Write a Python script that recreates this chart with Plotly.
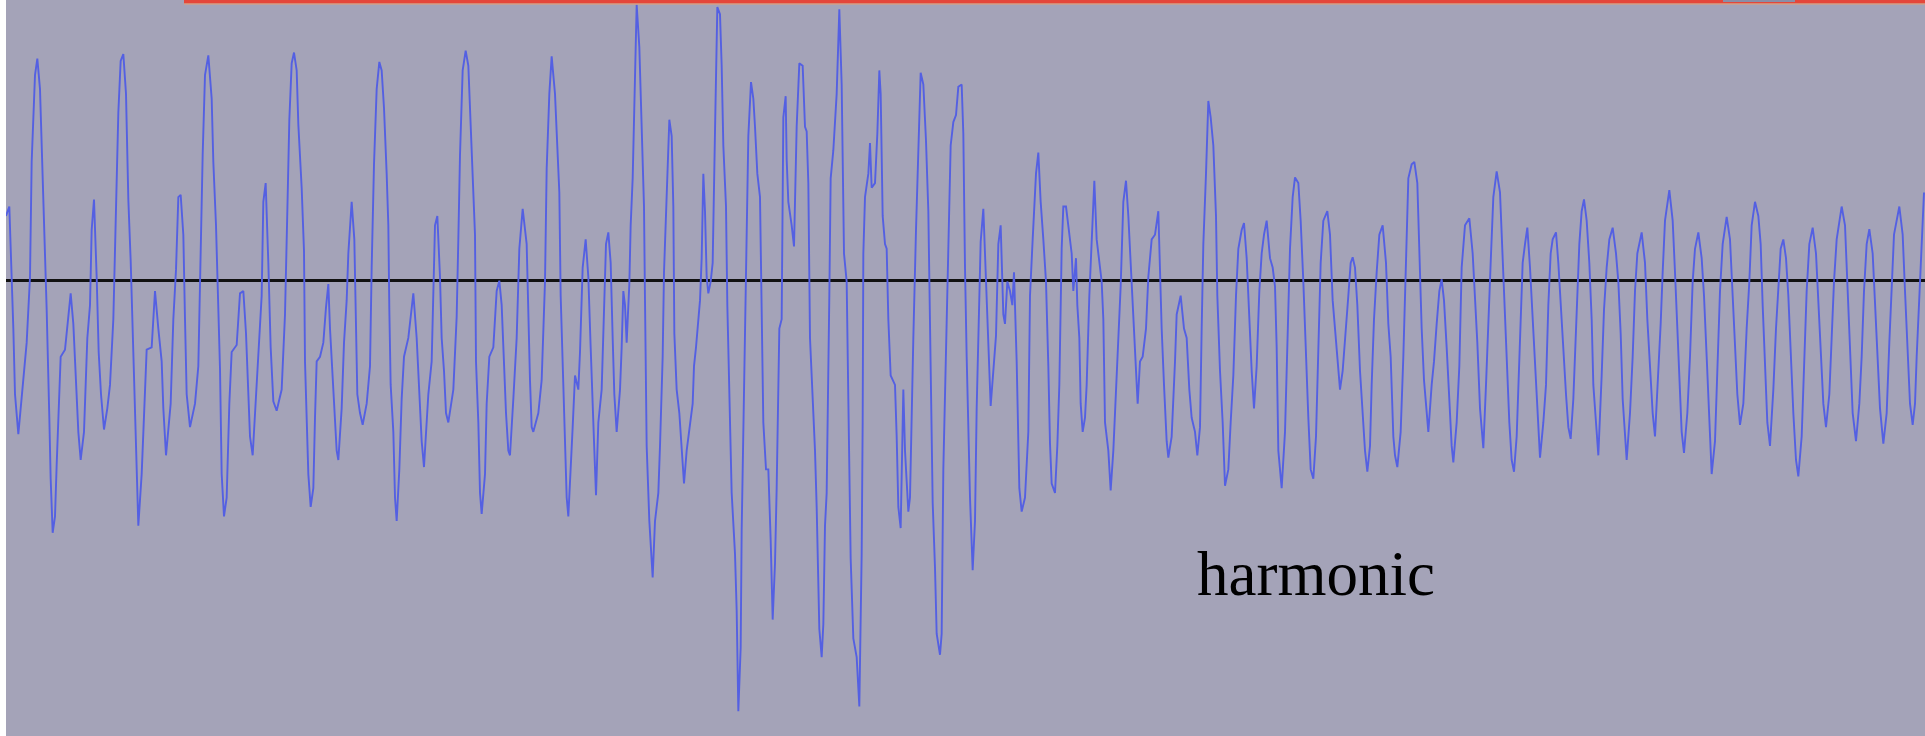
import plotly.graph_objects as go

# Waveform: sample offsets within each block and amplitudes
block_start = [0, 960, 1920, 2880, 3840, 4800]

block1_t = [18, 28, 40, 45, 55, 65, 80, 90, 95, 105, 112, 120, 128, 135, 140, 148, 152, 158, 165, 170, 178, 182, 195, 205, 212, 220, 228, 235, 242, 252, 262, 270, 275, 282, 290, 296, 303, 312, 322, 330, 340, 348, 355, 362, 370, 378, 385, 392, 400, 405, 410, 415, 425, 432, 440, 455, 465, 475, 485, 490, 498, 512, 520, 528, 535, 542, 550, 555, 560, 570, 585, 595, 600, 608, 615, 625, 635, 640, 648, 655, 660, 665, 672, 680, 688, 695, 710, 720, 730, 738, 745, 750, 758, 770, 785, 790, 797, 805, 812, 820, 830, 845, 855, 862, 868, 875, 882, 890, 895, 905, 912, 915, 920, 925, 932, 940, 945, 950]
block1_a = [137, 157, -103, -243, -328, -248, -133, 7, 252, 437, 472, 407, 237, 87, -63, -293, -423, -538, -503, -393, -263, -163, -148, -83, -28, -93, -233, -323, -383, -323, -123, -53, 107, 172, 7, -153, -243, -318, -273, -223, -83, 137, 357, 467, 482, 397, 172, 42, -143, -303, -413, -523, -413, -273, -148, -143, -23, -103, -173, -273, -373, -263, -83, 22, 177, 182, 97, -83, -243, -313, -263, -183, 17, 267, 437, 479, 387, 252, 117, -43, -188, -413, -503, -463, -263, -153, -138, -28, -23, -113, -233, -333, -373, -213, -33, 167, 207, 37, -143, -258, -278, -233, -73, 147, 342, 462, 485, 447, 332, 197, 62, -173, -323, -413, -483, -443, -293, -173]

block2_t = [0, 10, 18, 25, 30, 38, 45, 50, 55, 65, 72, 80, 85, 95, 103, 108, 112, 120, 128, 140, 150, 155, 162, 170, 178, 185, 192, 200, 205, 208, 212, 220, 225, 230, 238, 245, 252, 265, 280, 290, 298, 305, 312, 325, 335, 340, 345, 352, 360, 365, 372, 378, 385, 400, 410, 415, 420, 428, 437, 445, 452, 458, 465, 468, 475, 480, 485, 495, 500, 508, 520, 530, 538, 545, 550, 558, 565, 570, 580, 590, 598, 608, 620, 625, 630, 635, 640, 655, 665, 675, 680, 688, 695, 705, 712, 718, 722, 728, 735, 740, 745, 752, 758, 765, 775, 780, 788, 797, 805, 812, 818, 822, 828, 835, 845, 852, 858, 865, 872, 878, 883, 890, 900, 905, 910, 915, 920, 928, 932, 938, 945, 950, 958]
block2_a = [-163, -133, -58, -8, -103, -203, -283, -363, -383, -273, -133, -43, 57, 167, 87, -63, -243, -283, -308, -263, -183, 27, 247, 407, 465, 447, 367, 227, 117, -63, -223, -323, -463, -513, -403, -253, -163, -123, -28, -123, -233, -343, -398, -243, -173, -48, 117, 137, 7, -123, -193, -283, -303, -233, -78, 87, 267, 447, 489, 457, 332, 237, 97, -173, -303, -453, -498, -413, -263, -163, -143, -23, -1, -53, -153, -283, -363, -373, -253, -123, 67, 152, 77, -83, -213, -313, -323, -283, -213, -3, 237, 397, 477, 397, 287, 187, -33, -183, -303, -463, -503, -413, -313, -203, -233, -153, 27, 87, 7, -143, -243, -343, -458, -303, -233, -53, 77, 102, 37, -123, -243, -323, -233, -143, -23, -53, -133, -8, 117, 217, 467, 587, 497]

block3_t = [5, 12, 15, 20, 28, 38, 45, 55, 60, 68, 72, 80, 88, 95, 100, 103, 110, 118, 125, 132, 140, 148, 158, 162, 168, 180, 185, 190, 195, 200, 205, 212, 218, 225, 232, 240, 245, 250, 258, 262, 268, 275, 285, 290, 295, 302, 305, 312, 318, 325, 333, 340, 345, 352, 360, 365, 370, 378, 385, 392, 398, 405, 410, 418, 425, 430, 437, 440, 445, 455, 462, 470, 478, 488, 495, 500, 505, 510, 515, 520, 525, 530, 538, 545, 550, 555, 560, 568, 572, 580, 590, 598, 605, 612, 620, 625, 632, 640, 650, 658, 665, 668, 670, 675, 685, 690, 695, 705, 712, 718, 722, 728, 735, 740, 745, 752, 765, 770, 775, 782, 790, 795, 800, 805, 810, 815, 820, 828, 835, 842, 850, 858, 865, 870, 878, 885, 890, 900, 905, 910, 918, 925, 932, 940, 948, 955]
block3_a = [307, 157, -43, -353, -513, -633, -513, -453, -353, -163, 17, 197, 342, 307, 157, -113, -233, -283, -363, -433, -363, -318, -263, -183, -143, -43, 47, 227, 147, 7, -28, -3, 37, 317, 582, 567, 457, 287, 157, -53, -273, -453, -583, -703, -918, -783, -533, -233, -53, 307, 422, 387, 327, 227, 177, -93, -303, -403, -403, -553, -723, -603, -443, -103, -83, 347, 392, 257, 167, 117, 72, 327, 462, 457, 327, 317, 207, -123, -203, -303, -363, -483, -743, -803, -733, -523, -453, -33, 217, 277, 397, 577, 417, 57, -3, -253, -593, -763, -803, -908, -583, -303, 57, 177, 227, 292, 197, 207, 312, 447, 397, 137, 77, 67, -83, -203, -223, -333, -483, -528, -233, -363, -443, -493, -463, -273, -123, 107, 287, 442, 417, 297, 147, -103, -473, -613, -753, -798, -753, -403, -143, 87, 287, 337, 352, 412]

block4_t = [5, 10, 12, 15, 20, 25, 30, 38, 45, 50, 55, 62, 70, 78, 85, 92, 100, 108, 115, 122, 130, 135, 142, 150, 157, 162, 170, 178, 185, 195, 205, 210, 218, 228, 235, 242, 250, 258, 265, 270, 275, 285, 292, 298, 305, 310, 318, 325, 335, 340, 348, 352, 358, 362, 368, 375, 380, 388, 395, 403, 410, 418, 425, 430, 435, 445, 452, 460, 468, 475, 482, 490, 498, 505, 512, 520, 525, 533, 540, 548, 558, 565, 575, 585, 595, 600, 605, 612, 620, 625, 635, 645, 650, 662, 672, 680, 688, 695, 705, 712, 720, 725, 730, 738, 745, 752, 760, 768, 772, 780, 788, 795, 805, 812, 820, 828, 835, 845, 852, 860, 865, 870, 875, 882, 890, 898, 905, 912, 920, 930, 938, 945, 950, 955]
block4_a = [417, 312, 177, 27, -163, -333, -463, -618, -513, -273, -93, 82, 152, -3, -163, -268, -193, -118, 77, 117, -73, -93, -3, -23, -53, 17, -173, -443, -493, -463, -323, -33, 87, 227, 272, 167, 87, -3, -183, -348, -433, -453, -353, -223, 67, 157, 157, 117, 57, -23, 47, -53, -123, -263, -323, -293, -223, -33, 77, 212, 87, 37, -3, -83, -303, -363, -448, -363, -233, -113, -13, 167, 212, 137, 37, -73, -173, -263, -173, -163, -103, 7, 87, 97, 147, -3, -103, -223, -343, -378, -333, -173, -73, -33, -103, -123, -233, -293, -323, -373, -313, -103, 77, 227, 382, 347, 287, 137, -33, -193, -303, -438, -403, -303, -203, -33, 67, 107, 122, 47, -43, -103, -193, -273, -183, -23, 57, 97, 127, 47, 27, -13, -143, -363]

block5_t = [5, 15, 22, 30, 38, 45, 55, 62, 70, 75, 85, 92, 100, 108, 115, 122, 130, 142, 150, 158, 165, 172, 180, 188, 195, 205, 212, 218, 225, 232, 240, 248, 255, 262, 270, 275, 282, 290, 298, 308, 318, 325, 332, 340, 345, 352, 362, 370, 378, 385, 395, 403, 412, 418, 425, 432, 440, 445, 455, 462, 470, 478, 485, 492, 500, 508, 515, 520, 530, 538, 545, 555, 568, 578, 585, 592, 600, 610, 618, 625, 632, 640, 650, 660, 665, 672, 680, 688, 695, 702, 710, 715, 720, 728, 735, 742, 750, 758, 765, 772, 780, 790, 798, 805, 812, 818, 828, 835, 842, 850, 858, 865, 872, 880, 885, 892, 898, 905, 912, 920, 928, 935, 940, 948, 955]
block5_a = [-443, -323, -113, 67, 177, 219, 207, 127, -3, -113, -293, -403, -423, -333, -163, 37, 127, 147, 97, -43, -103, -163, -233, -193, -133, -33, 37, 49, 27, -53, -193, -283, -363, -408, -353, -223, -83, 17, 97, 117, 37, -93, -163, -333, -373, -398, -323, -163, 57, 217, 247, 252, 207, 57, -103, -213, -273, -323, -223, -173, -93, -23, 2, -43, -143, -273, -353, -388, -303, -183, 27, 117, 132, 57, -33, -133, -273, -358, -223, -73, 37, 177, 232, 187, 97, -43, -153, -303, -383, -408, -333, -233, -103, 37, 77, 112, 27, -83, -183, -273, -378, -303, -223, -53, 57, 87, 102, 37, -53, -153, -243, -313, -338, -253, -163, -43, 77, 147, 172, 127, 37, -83, -223, -303, -373]

block6_t = [5, 12, 20, 28, 38, 48, 55, 62, 68, 75, 80, 90, 98, 105, 112, 125, 135, 142, 150, 158, 165, 175, 182, 188, 195, 208, 218, 225, 232, 240, 245, 252, 262, 270, 278, 285, 295, 305, 312, 320, 328, 335, 345, 352, 360, 368, 380, 390, 398, 405, 412, 420, 430, 440, 448, 455, 465, 475, 482, 488, 495, 502, 510, 520, 528, 535, 542, 550, 558, 565, 572, 580, 588, 595, 605, 612, 620, 628, 638, 648, 655, 662, 670, 678, 688, 695, 702, 710, 725, 735, 742, 750, 758, 768, 778, 785, 792, 800, 808, 818, 825, 832, 840, 850, 860, 868, 875, 882, 898, 908, 915, 922, 930, 938, 945, 950, 958, 965, 972]
block6_a = [-203, -63, 27, 87, 112, 57, -3, -113, -253, -343, -383, -283, -163, -23, 57, 102, 37, -83, -183, -283, -333, -203, -93, 17, 127, 192, 127, 17, -93, -243, -323, -368, -283, -163, -3, 67, 102, 47, -33, -163, -303, -413, -343, -183, -23, 77, 135, 87, -23, -133, -243, -308, -263, -103, -3, 117, 167, 137, 77, -53, -183, -303, -353, -233, -103, -3, 67, 87, 47, -33, -163, -283, -383, -418, -333, -183, -23, 77, 112, 57, -53, -163, -263, -313, -243, -123, -3, 87, 157, 117, -3, -143, -283, -343, -263, -163, -23, 77, 109, 57, -53, -163, -273, -348, -283, -133, -23, 97, 157, 97, -23, -143, -263, -308, -263, -163, -43, 77, 187]

label_text = "harmonic"

block_t = [block1_t, block2_t, block3_t, block4_t, block5_t, block6_t]
block_a = [block1_a, block2_a, block3_a, block4_a, block5_a, block6_a]

t_all, a_all = [], []
for start, ts, as_ in zip(block_start, block_t, block_a):
    t_all.extend(start + t for t in ts)
    a_all.extend(as_)

fig = go.Figure()
fig.add_trace(go.Scatter(
    x=t_all, y=a_all, mode="lines",
    line=dict(color="rgb(84,96,226)", width=1.9),
    hoverinfo="skip", showlegend=False,
))

fig.update_layout(
    width=1925, height=736,
    margin=dict(l=0, r=0, t=0, b=0),
    paper_bgcolor="white",
    plot_bgcolor="#a4a3b8",
    xaxis=dict(domain=[6 / 1925, 1], range=[18, 5775], visible=False, fixedrange=True),
    yaxis=dict(range=[-971, 597], showgrid=False, showticklabels=False, ticks="",
               zeroline=True, zerolinecolor="#111111", zerolinewidth=2.5, fixedrange=True),
    shapes=[
        dict(type="rect", xref="paper", yref="paper", x0=184 / 1925, x1=1,
             y0=1 - 3.5 / 736, y1=1, fillcolor="#e4463a", line=dict(width=0), layer="above"),
        dict(type="rect", xref="paper", yref="paper", x0=184 / 1925, x1=1,
             y0=1 - 4.5 / 736, y1=1 - 3.5 / 736, fillcolor="#e8a070", line=dict(width=0), layer="above"),
        dict(type="rect", xref="paper", yref="paper", x0=1723 / 1925, x1=1795 / 1925,
             y0=1 - 2 / 736, y1=1, fillcolor="#8a8ea6", line=dict(width=0), layer="above"),
    ],
    annotations=[dict(
        text=label_text, xref="paper", yref="paper", x=1315.5 / 1925, y=1 - 574 / 736,
        xanchor="center", yanchor="middle", showarrow=False,
        font=dict(family="Liberation Serif", size=63, color="black"),
    )],
)

fig.write_html("out.html", config={"displayModeBar": False})
